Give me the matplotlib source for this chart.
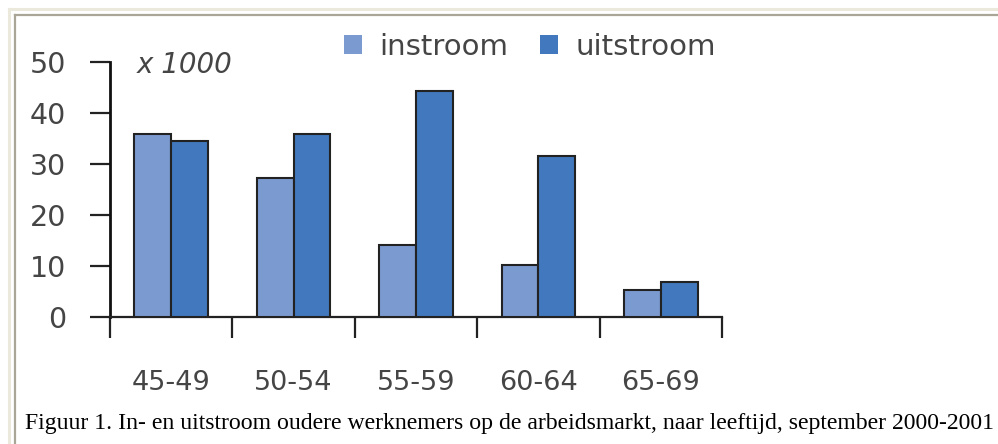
import matplotlib
matplotlib.use("Agg")
import matplotlib.pyplot as plt
from matplotlib.patches import Patch
from matplotlib.lines import Line2D
import numpy as np

categories = ["45-49", "50-54", "55-59", "60-64", "65-69"]
instroom = [35.9, 27.3, 14.1, 10.1, 5.3]
uitstroom = [34.5, 35.9, 44.3, 31.6, 6.8]
yticks = [0, 10, 20, 30, 40, 50]
series_names = ["instroom", "uitstroom"]
unit_label = "x 1000"
caption = "Figuur 1. In- en uitstroom oudere werknemers op de arbeidsmarkt, naar leeftijd, september 2000-2001"

c_in = "#7b9bd0"
c_out = "#4178be"
edge = "#222222"
txt = "#454545"

W, H = 998, 444
fig = plt.figure(figsize=(W / 100, H / 100), dpi=100)
fig.patch.set_facecolor("white")

# frame lines (top and left)
fig.add_artist(Line2D([9 / W, 1], [1 - 9 / H, 1 - 9 / H], color="#ebe8dc", lw=2.2))
fig.add_artist(Line2D([9 / W, 9 / W], [0, 1 - 9 / H], color="#ebe8dc", lw=2.2))
fig.add_artist(Line2D([15 / W, 1], [1 - 15 / H, 1 - 15 / H], color="#a9a697", lw=1.6))
fig.add_artist(Line2D([15 / W, 15 / W], [0, 1 - 15 / H], color="#a9a697", lw=1.6))

left, right, top, bottom = 110, 722, 62, 317
ax = fig.add_axes([left / W, 1 - bottom / H, (right - left) / W, (bottom - top) / H])
ax.set_facecolor("none")

x = np.arange(len(categories))
bw = 0.3
ax.bar(x - bw / 2, instroom, bw, color=c_in, edgecolor=edge, linewidth=1.5, zorder=3)
ax.bar(x + bw / 2, uitstroom, bw, color=c_out, edgecolor=edge, linewidth=1.5, zorder=3)

ax.set_xlim(-0.5, len(categories) - 0.5)
ax.set_ylim(0, 50)

for s in ["top", "right"]:
    ax.spines[s].set_visible(False)
ax.spines["left"].set_linewidth(2.0)
ax.spines["left"].set_color("#111111")
ax.spines["bottom"].set_linewidth(1.6)
ax.spines["bottom"].set_color("#222222")

ax.set_yticks(yticks)
ax.set_yticklabels([str(v) for v in yticks])
ax.tick_params(axis="y", direction="out", length=14.5, width=1.6, color="#222222",
               pad=17, labelsize=20.5, labelcolor=txt)

ax.set_xticks(np.arange(len(categories) + 1) - 0.5)
ax.set_xticklabels([""] * (len(categories) + 1))
ax.tick_params(axis="x", which="major", direction="out", length=15, width=1.6, color="#222222")
ax.set_xticks(x, minor=True)
ax.set_xticklabels(categories, minor=True)
ax.tick_params(axis="x", which="minor", length=0, pad=38, labelsize=19.5, labelcolor=txt)

for lab in ax.get_yticklabels() + ax.get_xticklabels(minor=True):
    lab.set_family("DejaVu Sans")

ax.text(137 / W, 1 - 65 / H, unit_label, transform=fig.transFigure, fontsize=20,
        style="italic", color=txt, va="center", ha="left", family="DejaVu Sans")

handles = [Patch(facecolor=c_in, edgecolor="none"), Patch(facecolor=c_out, edgecolor="none")]
fig.legend(handles, series_names, loc="center", bbox_to_anchor=(530 / W, 1 - 47 / H),
           ncol=2, frameon=False, handlelength=0.6, handleheight=0.6,
           handletextpad=0.6, columnspacing=1.1, labelcolor=txt,
           prop={"family": "DejaVu Sans", "size": 21})

fig.text(25 / W, 1 - 423 / H, caption, fontsize=17.1, family="Liberation Serif",
         color="black", va="center", ha="left")

fig.savefig("out.png", dpi=100, facecolor="white")
